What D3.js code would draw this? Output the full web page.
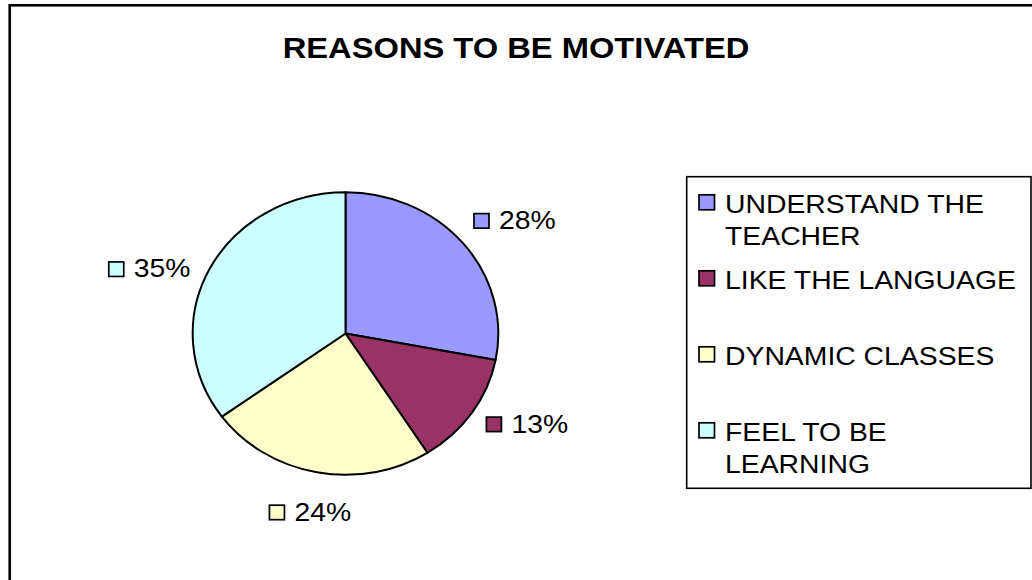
<!DOCTYPE html>
<html>
<head>
<meta charset="utf-8">
<script src="https://cdn.jsdelivr.net/npm/d3@7"></script>
<style>
  html, body { margin: 0; padding: 0; background: #fff; }
  svg { display: block; }
  text { font-family: "Liberation Sans", Arial, sans-serif; fill: #000; }
</style>
</head>
<body>
<svg id="chart" width="1032" height="580"></svg>
<script>
// Survey answers: reasons students feel motivated
const categories = ["UNDERSTAND THE TEACHER", "LIKE THE LANGUAGE", "DYNAMIC CLASSES", "FEEL TO BE LEARNING"];
const percents = [28, 13, 24, 35];
const colors = ["#9999FF", "#993366", "#FFFFCC", "#CCFFFF"];
const title = "REASONS TO BE MOTIVATED";

const W = 1032, H = 580;
const svg = d3.select("#chart");
const TEXT_STRETCH = 1.07;     // glyphs are drawn slightly wide
const FONT = 26.5;

// outer chart frame (runs past the right and bottom edges)
svg.append("rect")
  .attr("x", 9.7).attr("y", 5.3)
  .attr("width", 1100).attr("height", 1000)
  .attr("fill", "#fff").attr("stroke", "#000").attr("stroke-width", 2.6);

// title
svg.append("text")
  .attr("transform", `translate(516,57.5) scale(1.09,1)`)
  .attr("text-anchor", "middle")
  .style("font-size", "30px").style("font-weight", "bold")
  .text(title);

// pie: circle of radius ry, widened horizontally to an ellipse
const cx = 345.5, cy = 333.5, rx = 152.8, ry = 141.3;
const pie = d3.pie().sort(null).value(d => d)(percents);
const arc = d3.arc().innerRadius(0).outerRadius(ry);

const pieG = svg.append("g")
  .attr("transform", `translate(${cx},${cy}) scale(${rx / ry},1)`);
pieG.selectAll("path").data(pie).join("path")
  .attr("d", arc)
  .attr("fill", (d, i) => colors[i])
  .attr("stroke", "#000")
  .attr("stroke-width", 2)
  .attr("stroke-linejoin", "round")
  .attr("vector-effect", "non-scaling-stroke");

// value labels: small colour key + percentage, placed outside each slice
const gap = 27, halfW = 40, halfH = 8;
const labelNudge = [[0, 0], [0, -8], [6, 6], [0, 16]];
pie.forEach((d, i) => {
  const a = (d.startAngle + d.endAngle) / 2;
  const sx = Math.sin(a), sy = -Math.cos(a);
  const lx = cx + rx * sx + sx * (gap + halfW) + labelNudge[i][0];
  const ly = cy + ry * sy + sy * (gap + halfH) + labelNudge[i][1];

  const g = svg.append("g");
  const t = g.append("text")
    .style("font-size", FONT + "px")
    .text(d3.format(".0%")(percents[i] / 100));
  const tw = t.node().getComputedTextLength() * TEXT_STRETCH;
  const boxW = 15 + 10 + tw;
  const left = lx - boxW / 2;
  g.append("rect")
    .attr("x", left).attr("y", ly - 7.5)
    .attr("width", 15).attr("height", 14.5)
    .attr("fill", colors[i]).attr("stroke", "#000").attr("stroke-width", 1.7);
  t.attr("transform", `translate(${left + 25},${ly + 8}) scale(${TEXT_STRETCH},1)`);
});

// legend
const lg = { x: 686.7, y: 176.7, w: 344.3, h: 311.6 };
svg.append("rect")
  .attr("x", lg.x).attr("y", lg.y).attr("width", lg.w).attr("height", lg.h)
  .attr("fill", "#fff").attr("stroke", "#000").attr("stroke-width", 1.6);

const firstBase = 213.3, itemStep = 76, lineStep = 32, textX = 725, maxLine = 305;

// word-wrap a label to the legend width
function wrap(str) {
  const probe = svg.append("text").style("font-size", FONT + "px");
  const words = str.split(" ");
  const lines = [];
  let cur = "";
  words.forEach(w => {
    const test = cur ? cur + " " + w : w;
    probe.text(test);
    if (cur && probe.node().getComputedTextLength() * TEXT_STRETCH > maxLine) {
      lines.push(cur);
      cur = w;
    } else {
      cur = test;
    }
  });
  if (cur) lines.push(cur);
  probe.remove();
  return lines;
}

categories.forEach((c, i) => {
  const base = firstBase + i * itemStep;
  svg.append("rect")
    .attr("x", 699).attr("y", base - 18.5)
    .attr("width", 15.5).attr("height", 15)
    .attr("fill", colors[i]).attr("stroke", "#000").attr("stroke-width", 1.7);
  wrap(c).forEach((line, j) => {
    svg.append("text")
      .attr("transform", `translate(${textX},${base + j * lineStep}) scale(${TEXT_STRETCH},1)`)
      .style("font-size", FONT + "px")
      .text(line);
  });
});
</script>
</body>
</html>
